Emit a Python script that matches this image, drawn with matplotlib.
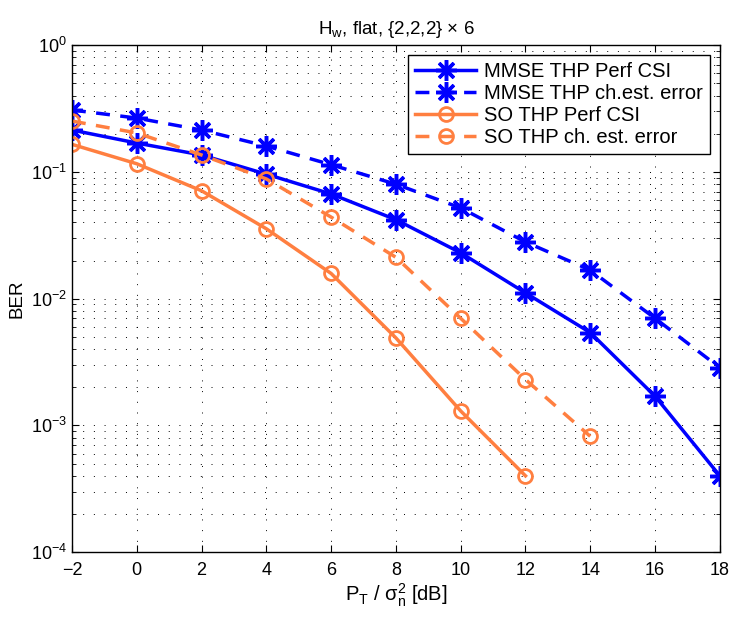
import matplotlib
matplotlib.use('Agg')
import matplotlib.pyplot as plt
from matplotlib.ticker import LogLocator, NullFormatter

plt.rcParams['font.family'] = ['Liberation Sans', 'DejaVu Sans']
plt.rcParams['mathtext.fontset'] = 'custom'
plt.rcParams['mathtext.rm'] = 'Liberation Sans'
plt.rcParams['mathtext.it'] = 'Liberation Sans:italic'
plt.rcParams['mathtext.sf'] = 'Liberation Sans'

snr_db = [-2, 0, 2, 4, 6, 8, 10, 12, 14, 16, 18]
mmse_perf = [0.214, 0.169, 0.136, 0.096, 0.067, 0.042, 0.023, 0.0111, 0.0054, 0.0017, 0.00040]
mmse_err = [0.308, 0.266, 0.214, 0.160, 0.114, 0.080, 0.052, 0.028, 0.0168, 0.0070, 0.00285]
so_snr_perf = [-2, 0, 2, 4, 6, 8, 10, 12]
so_perf = [0.165, 0.116, 0.071, 0.0356, 0.0158, 0.0049, 0.00130, 0.00040]
so_snr_err = [-2, 0, 2, 4, 6, 8, 10, 12, 14]
so_err = [0.252, 0.203, 0.136, 0.088, 0.044, 0.0212, 0.0070, 0.0023, 0.00082]

blue = '#0000FF'
orange = '#FF7F40'
asterisk = (8, 2, 0)

fig = plt.figure(figsize=(7.37, 6.19), dpi=100)
ax = fig.add_axes([0.0977, 0.108, 0.879, 0.819])

ax.plot(snr_db, mmse_perf, '-', color=blue, lw=2.5, marker=asterisk, ms=15, mew=2.5,
        label='MMSE THP Perf CSI')
ax.plot(snr_db, mmse_err, '--', color=blue, lw=2.5, marker=asterisk, ms=15, mew=2.5,
        dashes=(4, 3), label='MMSE THP ch.est. error')
ax.plot(so_snr_perf, so_perf, '-', color=orange, lw=2.5, marker='o', ms=10, mew=2,
        mfc='none', label='SO THP Perf CSI')
ax.plot(so_snr_err, so_err, '--', color=orange, lw=2.5, marker='o', ms=10, mew=2,
        mfc='none', dashes=(4, 3), label='SO THP ch. est. error')

ax.set_yscale('log')
ax.set_xlim(-2, 18)
ax.set_ylim(1e-4, 1)
ax.set_xticks(range(-2, 19, 2))
ax.yaxis.set_major_locator(LogLocator(base=10, numticks=10))
ax.yaxis.set_minor_locator(LogLocator(base=10, subs=range(2, 10), numticks=20))
ax.yaxis.set_minor_formatter(NullFormatter())

dot = (0, (1, 10))
ax.grid(True, which='major', linestyle=dot, color='black', lw=0.7)
ax.grid(True, which='minor', axis='y', linestyle=dot, color='black', lw=0.7)
ax.tick_params(which='both', direction='in', top=True, right=True, labelsize=13)
ax.tick_params(axis='x', pad=7)
ax.tick_params(which='minor', length=3)
ax.tick_params(which='major', length=5)
for s in ax.spines.values():
    s.set_linewidth(1.0)

ax.set_xlabel(r'P$_\mathrm{T}$ / $\mathrm{σ}_\mathrm{n}^\mathrm{2}$ [dB]', fontsize=14.5, labelpad=2)
ax.set_ylabel('BER', fontsize=13.5)
ax.set_title(r'H$_\mathrm{w}$, flat, {2,2,2} $\times$ 6', fontsize=13.5, pad=8)

leg = ax.legend(loc='upper right', fontsize=14.5, fancybox=False, edgecolor='black',
                framealpha=1, handlelength=3, borderaxespad=0.5, labelspacing=0.15,
                handletextpad=0.4, borderpad=0.35)
leg.get_frame().set_linewidth(1.0)

fig.savefig('out.png', dpi=100)
